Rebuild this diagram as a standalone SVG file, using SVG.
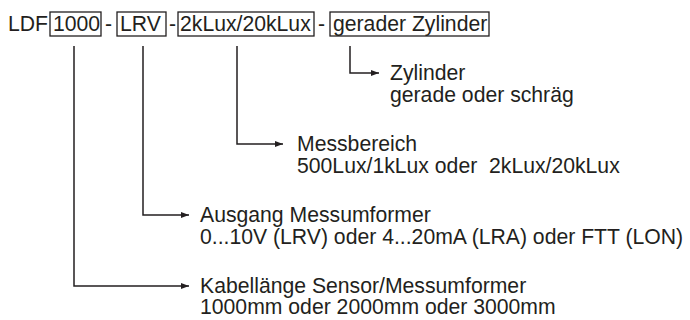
<svg xmlns="http://www.w3.org/2000/svg" width="690" height="320" viewBox="0 0 690 320">
<style>
text{font-family:"Liberation Sans",Arial,sans-serif;font-size:21.2px;fill:#231f20}
.box{fill:none;stroke:#231f20;stroke-width:1.3}
.conn{fill:none;stroke:#231f20;stroke-width:1.5}
</style>
<defs>
<marker id="ah" viewBox="0 0 8 6" refX="8" refY="3" markerWidth="8" markerHeight="6" markerUnits="userSpaceOnUse" orient="auto">
<path d="M0,0 L8,3 L0,6 z" fill="#231f20"/>
</marker>
</defs>
<rect width="690" height="320" fill="#fff"/>
<g id="code">
<text x="8" y="31">LDF</text>
<g id="seg1"><rect class="box" x="50" y="12" width="51" height="24"/><text x="53" y="31">1000</text></g>
<text x="105" y="31">-</text>
<g id="seg2"><rect class="box" x="117" y="12" width="49" height="24"/><text x="120" y="31">LRV</text></g>
<text x="169" y="31">-</text>
<g id="seg3"><rect class="box" x="178" y="12" width="136" height="24"/><text x="180" y="31">2kLux/20kLux</text></g>
<text x="318" y="31">-</text>
<g id="seg4"><rect class="box" x="330" y="12" width="159" height="24"/><text x="333" y="31">gerader Zylinder</text></g>
</g>
<g id="connectors">
<path class="conn" d="M350,46 V73 H379" marker-end="url(#ah)"/>
<path class="conn" d="M237,46 V144 H283" marker-end="url(#ah)"/>
<path class="conn" d="M143,46 V215 H189" marker-end="url(#ah)"/>
<path class="conn" d="M74,46 V286 H189" marker-end="url(#ah)"/>
</g>
<g id="zylinder"><text x="390" y="80">Zylinder</text><text x="390" y="102">gerade oder schräg</text></g>
<g id="messbereich"><text x="297" y="151">Messbereich</text><text x="297" y="173" xml:space="preserve">500Lux/1kLux oder  2kLux/20kLux</text></g>
<g id="ausgang"><text x="200" y="222">Ausgang Messumformer</text><text x="200" y="244">0...10V (LRV) oder 4...20mA (LRA) oder FTT (LON)</text></g>
<g id="kabel"><text x="200" y="293">Kabellänge Sensor/Messumformer</text><text x="200" y="314">1000mm oder 2000mm oder 3000mm</text></g>
</svg>
